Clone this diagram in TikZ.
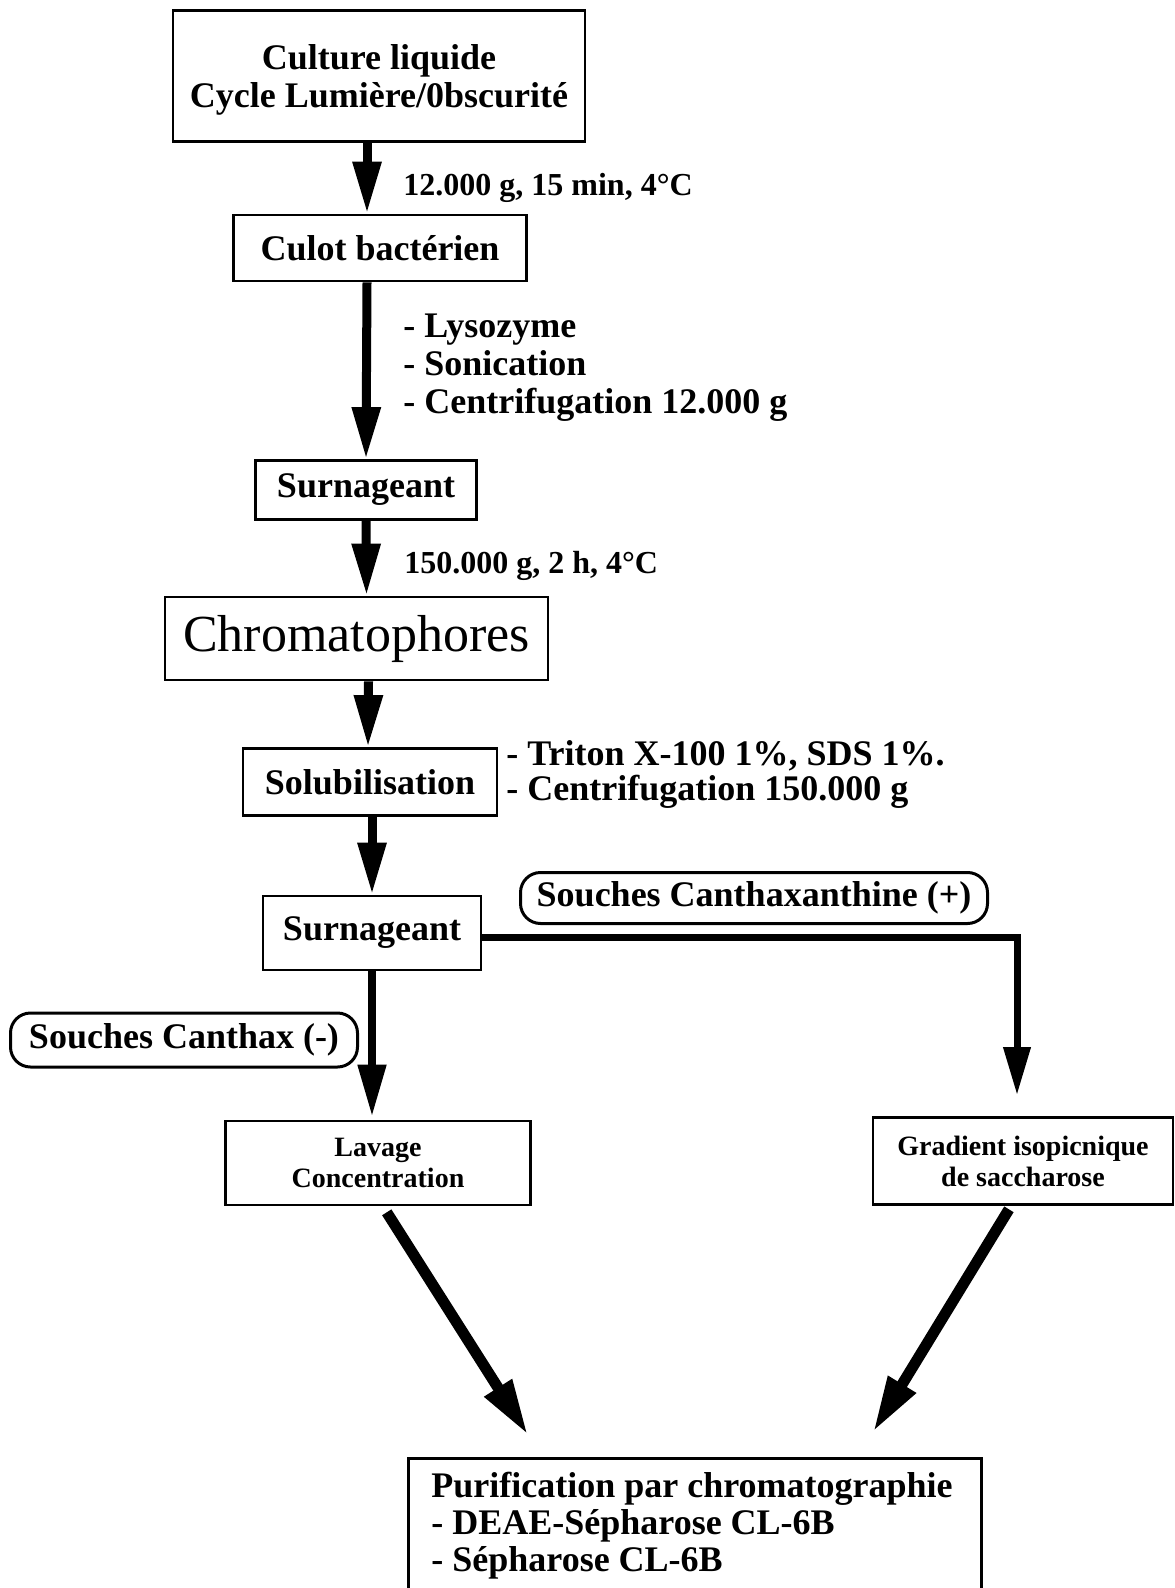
\documentclass[tikz,border=0pt]{standalone}
\usepackage{fontspec}
\setmainfont{Liberation Serif}
\usetikzlibrary{arrows.meta}

\tikzset{
  boite/.style={draw, line width=1.4pt, inner sep=0pt, align=center,
    font=\bfseries\fontsize{18}{19}\selectfont},
  petite/.style={boite, font=\bfseries\fontsize{14}{15.5}\selectfont},
  souche/.style={boite, rounded corners=10pt, line width=1.5pt},
  etiquette/.style={anchor=west, inner sep=0pt, align=left,
    font=\bfseries\fontsize{18}{19}\selectfont},
  conditions/.style={etiquette, font=\bfseries\fontsize{16}{18}\selectfont},
  fleche/.style={line width=4.5pt, -{Triangle[length=26pt,width=13.5pt]}},
  branche/.style={line width=3.5pt, -{Triangle[length=24pt,width=13pt]}},
  diagonale/.style={line width=5.5pt, -{Triangle[length=28pt,width=15pt]}}
}

\begin{document}
\begin{tikzpicture}[x=0.5pt,y=-0.5pt]

  \useasboundingbox (0,0) rectangle (1174,1588);
  \clip (0,0) rectangle (1174,1588);

  %Etapes de la colonne principale
  \node[boite, minimum width=206pt, minimum height=65.5pt, text depth=0pt] (cult) at (379,76)
    {Culture liquide\\Cycle Lumière/0bscurité};
  \node[boite, minimum width=146.5pt, minimum height=33pt] (culot) at (380,248) {Culot bactérien};
  \node[boite, minimum width=110.5pt, minimum height=29.5pt] (surnA) at (366,490) {Surnageant};
  \node[boite, minimum width=191.5pt, minimum height=41.5pt,
    font=\mdseries\fontsize{26}{28}\selectfont] (chrom) at (356.5,638.5) {Chromatophores};
  \node[boite, minimum width=127pt, minimum height=33.5pt] (solub) at (370,782) {Solubilisation};
  \node[boite, minimum width=109pt, minimum height=37pt] (surnB) at (372,933) {Surnageant};

  %Les deux souches
  \node[souche, minimum width=233.5pt, minimum height=25.5pt] (canthP) at (754,898)
    {Souches Canthaxanthine (+)};
  \node[souche, minimum width=173.5pt, minimum height=27pt] (canthM) at (184,1040)
    {Souches Canthax (-)};

  %Traitements
  \node[petite, minimum width=152.5pt, minimum height=42pt] (lav) at (378,1163)
    {Lavage\\Concentration};
  \node[petite, minimum width=150pt, minimum height=43.5pt] (grad) at (1023,1161)
    {Gradient isopicnique\\de saccharose};

  %Purification finale
  \node[boite, anchor=north west, minimum width=286.5pt, minimum height=80pt] (purif) at (407,1457) {};
  \node[etiquette, font=\bfseries\fontsize{18}{18.5}\selectfont] (purifT) at (431,1526)
    {Purification par chromatographie\\- DEAE-Sépharose CL-6B\\- Sépharose CL-6B};

  %Conditions a cote des fleches
  \node[conditions] (cond1) at (403,188) {12.000 g, 15 min, 4°C};
  \node[etiquette] (lyso) at (403,368) {- Lysozyme\\- Sonication\\- Centrifugation 12.000 g};
  \node[conditions] (cond2) at (404,566) {150.000 g, 2 h, 4°C};
  \node[etiquette, font=\bfseries\fontsize{18}{17.5}\selectfont] (trit) at (506,774)
    {- Triton X-100 1\%, SDS 1\%.\\- Centrifugation 150.000 g};

  %Fleches
  \draw[fleche] ([xshift=-6pt]cult.south) -- ([xshift=-6.5pt]culot.north);
  \draw[fleche] ([xshift=-6.5pt]culot.south) -- (surnA.north);
  \draw[fleche] (surnA.south) -- ([xshift=5pt]chrom.north);
  \draw[fleche] ([xshift=6pt]chrom.south) -- ([xshift=-1pt]solub.north);
  \draw[fleche] ([xshift=1pt]solub.south) -- (surnB.north);
  \draw[fleche, line width=4pt, shorten >=1.5pt] (surnB.south) -- ([xshift=-3pt]lav.north);
  \draw[branche, shorten >=10.5pt] ([yshift=-2pt]surnB.east) -| ([xshift=-3pt]grad.north);

  %Fleches vers la purification
  \coordinate (tipG) at (528,1435);
  \coordinate (tipD) at (873,1432);
  \draw[diagonale, shorten <=3.5pt] ([xshift=2.5pt]lav.south) -- (tipG);
  \draw[diagonale, shorten <=2pt] ([xshift=-6pt]grad.south) -- (tipD);

\end{tikzpicture}
\end{document}
